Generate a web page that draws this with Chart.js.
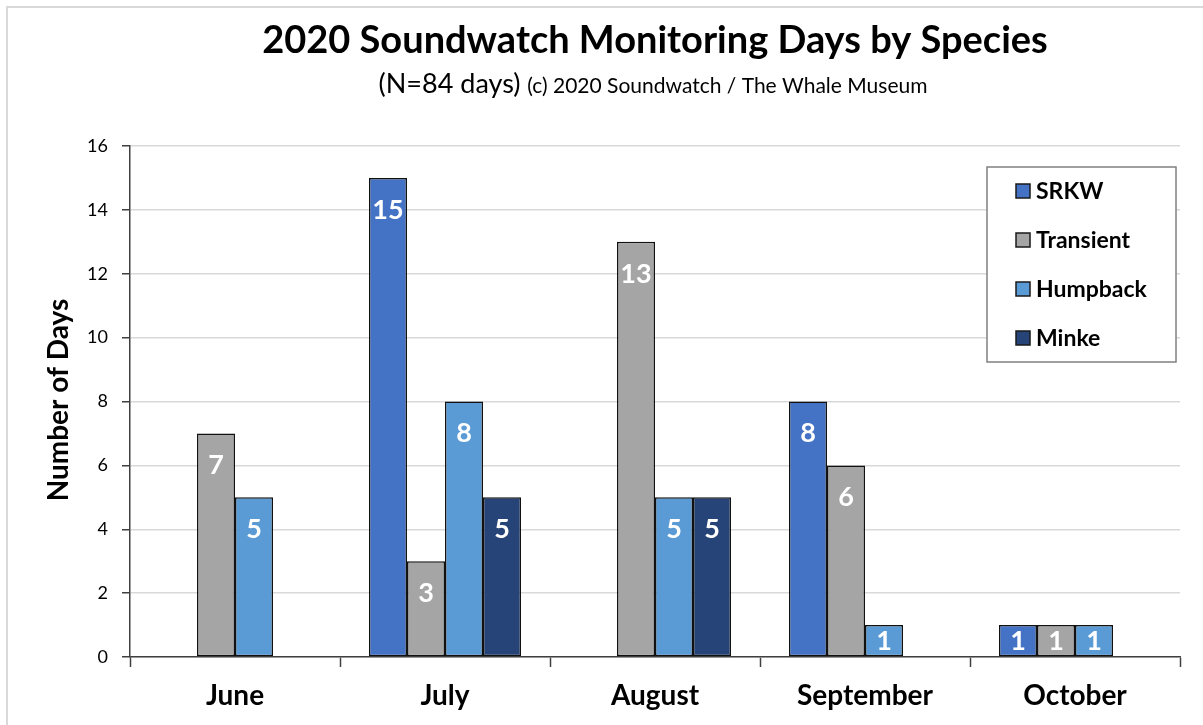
<!DOCTYPE html>
<html>
<head>
<meta charset="utf-8">
<title>2020 Soundwatch Monitoring Days by Species</title>
<script src="https://cdn.jsdelivr.net/npm/chart.js@4.4.1/dist/chart.umd.min.js"></script>
<style>
  html, body { margin: 0; padding: 0; background: #fff; }
  #wrap { width: 1203px; height: 725px; position: relative; }
</style>
</head>
<body>
<div id="wrap"><canvas id="myChart" width="1203" height="725"></canvas></div>
<script>
// chart data
const months = ['June', 'July', 'August', 'September', 'October'];
const species = ['SRKW', 'Transient', 'Humpback', 'Minke'];
const srkwDays = [0, 15, 0, 8, 1];
const transientDays = [7, 3, 13, 6, 1];
const humpbackDays = [5, 8, 5, 1, 1];
const minkeDays = [0, 5, 5, 0, 0];
const yTicks = [0, 2, 4, 6, 8, 10, 12, 14, 16];

const titleText = '2020 Soundwatch Monitoring Days by Species';
const subtitleMain = '(N=84 days)';
const subtitleSmall = '(c) 2020 Soundwatch / The Whale Museum';
const yTitle = 'Number of Days';

const colors = ['#4472C4', '#A5A5A5', '#5B9BD5', '#264478'];
const FONT = 'Lato, Carlito, Calibri, sans-serif';

// layout of the plot area
const AREA = { left: 130, right: 1180, top: 146, bottom: 657 };

/**
 * Page frame, titles, y axis title and the boxed legend.
 */
const decorPlugin = {
  id: 'decor',
  beforeDraw(chart) {
    const c = chart.ctx;
    c.save();
    c.fillStyle = '#fff';
    c.fillRect(0, 0, chart.width, chart.height);
    c.strokeStyle = '#d9d9d9';
    c.lineWidth = 2;
    c.beginPath();
    c.moveTo(7, chart.height + 5);
    c.lineTo(7, 7);
    c.lineTo(chart.width + 5, 7);
    c.stroke();
    c.restore();
  },
  afterDraw(chart) {
    const c = chart.ctx;
    c.save();
    c.fillStyle = '#000';
    c.textBaseline = 'alphabetic';
    c.textAlign = 'center';
    c.font = 'bold 38px ' + FONT;
    c.fillText(titleText, 655, 53);

    // subtitle in two sizes
    c.font = '27px ' + FONT;
    const w1 = c.measureText(subtitleMain + ' ').width;
    c.font = '21px ' + FONT;
    const w2 = c.measureText(subtitleSmall).width;
    let x = 653 - (w1 + w2) / 2;
    c.textAlign = 'left';
    c.font = '27px ' + FONT;
    c.fillText(subtitleMain + ' ', x, 93);
    c.font = '21px ' + FONT;
    c.fillText(subtitleSmall, x + w1, 93);

    // y axis title
    c.save();
    c.translate(59, 400);
    c.rotate(-Math.PI / 2);
    c.textAlign = 'center';
    c.textBaseline = 'middle';
    c.font = 'bold 28px ' + FONT;
    c.fillText(yTitle, 0, 0);
    c.restore();

    // legend
    c.strokeStyle = '#808080';
    c.lineWidth = 1.5;
    c.fillStyle = '#fff';
    c.fillRect(987, 167, 189, 195);
    c.strokeRect(987, 167, 189, 195);
    c.font = 'bold 23px ' + FONT;
    c.textBaseline = 'middle';
    c.textAlign = 'left';
    chart.data.datasets.forEach((ds, i) => {
      const cy = 191 + i * 49;
      c.fillStyle = ds.backgroundColor;
      c.fillRect(1016, cy - 7, 14, 14);
      c.strokeStyle = '#1a1a1a';
      c.lineWidth = 1.5;
      c.strokeRect(1016, cy - 7, 14, 14);
      c.fillStyle = '#000';
      c.fillText(ds.label, 1036, cy + 1);
    });
    c.restore();
  }
};

/**
 * White value labels near the top of each bar.
 */
const labelPlugin = {
  id: 'barLabels',
  afterDatasetsDraw(chart) {
    const c = chart.ctx;
    c.save();
    c.font = 'bold 27px ' + FONT;
    c.fillStyle = '#fff';
    c.textAlign = 'center';
    c.textBaseline = 'middle';
    chart.data.datasets.forEach((ds, i) => {
      chart.getDatasetMeta(i).data.forEach((bar, j) => {
        const v = ds.data[j];
        if (!v) return;
        const y = Math.min(bar.y + 31, (bar.y + bar.base) / 2);
        c.fillText(String(v), bar.x, y + 1);
      });
    });
    c.restore();
  }
};

const seriesData = [srkwDays, transientDays, humpbackDays, minkeDays];

const ctx = document.getElementById('myChart');
window.myChart = new Chart(ctx, {
  type: 'bar',
  data: {
    labels: months,
    datasets: species.map((name, i) => ({
      label: name,
      data: seriesData[i],
      backgroundColor: colors[i],
      borderColor: '#111',
      borderWidth: c => (c.raw === 0 ? 0 : 1.5),
      borderSkipped: false,
      categoryPercentage: 0.724,
      barPercentage: 1.0
    }))
  },
  options: {
    responsive: false,
    animation: false,
    events: [],
    layout: {
      padding: { top: AREA.top, right: 1203 - AREA.right, left: 0, bottom: 0 }
    },
    plugins: {
      legend: { display: false },
      title: { display: false },
      tooltip: { enabled: false }
    },
    scales: {
      x: {
        offset: true,
        grid: {
          display: true,
          offset: true,
          drawOnChartArea: false,
          drawTicks: true,
          tickLength: 10,
          tickColor: '#404040',
          tickWidth: 1.5
        },
        border: { display: true, color: '#404040', width: 1.5 },
        ticks: {
          color: '#000',
          font: { family: FONT, size: 28, weight: 'bold' },
          padding: 12
        },
        afterFit(scale) { scale.height = 725 - AREA.bottom; }
      },
      y: {
        min: 0,
        max: 16,
        afterBuildTicks(scale) { scale.ticks = yTicks.map(v => ({ value: v })); },
        grid: {
          color: '#d9d9d9',
          lineWidth: 1.5,
          tickLength: 8,
          tickColor: '#404040',
          tickWidth: 1.5
        },
        border: { display: true, color: '#404040', width: 1.5 },
        ticks: {
          color: '#000',
          font: { family: FONT, size: 18 },
          padding: 14
        },
        afterFit(scale) { scale.width = AREA.left; }
      }
    }
  },
  plugins: [decorPlugin, labelPlugin]
});
</script>
</body>
</html>
